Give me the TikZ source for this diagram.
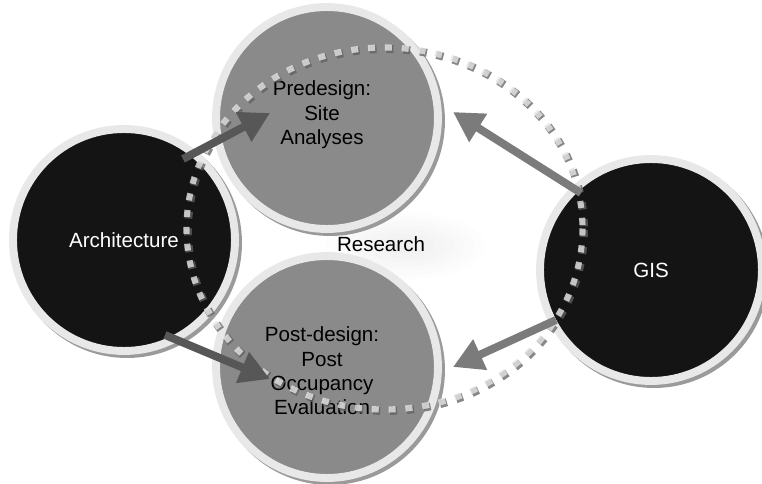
\documentclass[tikz,border=0pt]{standalone}
\usepackage{fontspec}
\setmainfont{Liberation Sans}
\usetikzlibrary{arrows.meta}
\definecolor{ringgray}{HTML}{E8E8E8}
\definecolor{shadowgray}{HTML}{9A9A9A}
\definecolor{darkfill}{HTML}{141414}
\definecolor{midfill}{HTML}{8A8A8A}
\definecolor{arrowdark}{HTML}{575757}
\definecolor{arrowlight}{HTML}{7B7B7B}
\definecolor{dotdark}{HTML}{606060}
\definecolor{dotlight}{HTML}{E4E4E4}

\begin{document}
\begin{tikzpicture}
[x=0.02cm,y=-0.02cm,
 every node/.style={font=\fontsize{11.7}{13.9}\selectfont,align=center},
 bubble/.style={circle,minimum size=4.44cm,inner sep=0pt,draw=ringgray,line width=4.5pt},
 dark/.style={bubble,fill=darkfill,text=white},
 mid/.style={bubble,fill=midfill,text=black},
 shadowdisc/.style={circle,minimum size=4.6cm,inner sep=0pt,fill=shadowgray},
 flowdark/.style={draw=arrowdark,line width=4.5pt,-{Triangle[width=18pt,length=17pt]}},
 flowlight/.style={draw=arrowlight,line width=4.5pt,-{Triangle[width=18pt,length=17pt]}}]
\useasboundingbox (0,0) rectangle (762,484);
% glow behind research
\foreach \k in {1,...,8}
\fill[black,opacity=0.007] (405,246) ellipse ({10*\k} and {4.2*\k});
% shadows
\foreach \x/\y in {124/240,327/118,327/367,651/270}
\node[shadowdisc] at (\x+3,\y+3) {};
% the four bubbles
\node[dark] (arch) at (124,240) {Architecture};
\node[mid] (pre) at (327,118) {};
\node[mid] (post) at (327,367) {};
\node[dark] (gis) at (651,270) {GIS};
\node (pretext) at (322,115) {Predesign:\\Site\\Analyses};
\node (posttext) at (322,371) {Post-design:\\Post\\Occupancy\\Evaluation};
\node (res) at (381,244) {Research};
% dotted cycle
\draw[dotdark,opacity=0.75,line width=4.5pt,dash pattern=on 4pt off 5.6pt] (386,230) ellipse (198 and 181);
\draw[dotlight,opacity=0.8,line width=3.5pt,dash pattern=on 4pt off 5.6pt] (384.5,228.5) ellipse (198 and 181);
% arrow ends
\coordinate (a1) at (183,159);
\coordinate (p1) at (270,113);
\coordinate (g1) at (581,193);
\coordinate (p2) at (453,112);
\coordinate (a2) at (165,335);
\coordinate (q1) at (270,379);
\coordinate (g2) at (556,320);
\coordinate (q2) at (453,367);
\foreach \from/\to in {a1/p1,a2/q1}
\draw[flowdark] (\from) -- (\to);
\foreach \from/\to in {g1/p2,g2/q2}
\draw[flowlight] (\from) -- (\to);
\end{tikzpicture}
\end{document}
